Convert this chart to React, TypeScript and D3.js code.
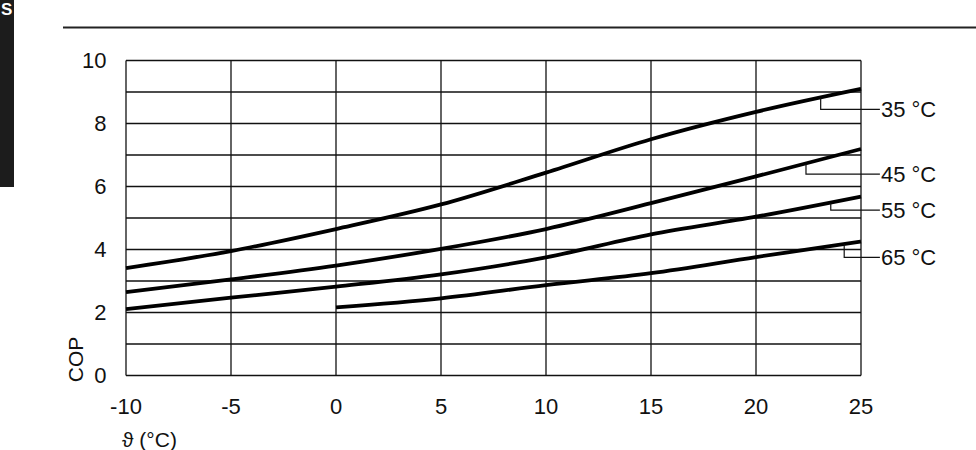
import React from "react";
import * as d3 from "d3";

const xTicks = [-10, -5, 0, 5, 10, 15, 20, 25];
const yTicks = [0, 2, 4, 6, 8, 10];
const yGrid = [0, 1, 2, 3, 4, 5, 6, 7, 8, 9, 10];

const temps = [-10, -5, 0, 5, 10, 15, 20, 25];
const cop35 = [3.41, 3.95, 4.65, 5.43, 6.44, 7.5, 8.37, 9.1];
const cop45 = [2.65, 3.05, 3.49, 4.02, 4.65, 5.47, 6.32, 7.19];
const cop55 = [2.11, 2.47, 2.82, 3.21, 3.75, 4.48, 5.04, 5.68];
const temps65 = [0, 5, 10, 15, 20, 25];
const cop65 = [2.16, 2.45, 2.87, 3.25, 3.76, 4.25];

const labelNames = ["35 °C", "45 °C", "55 °C", "65 °C"];
const labelAnchorX = [23.08, 22.38, 23.56, 24.2];
const labelAnchorTop = [8.8, 6.71, 5.47, 4.17];
const labelLevel = [8.45, 6.39, 5.25, 3.75];
const labelEndX = 25.9;

const W = 976;
const H = 450;
const left = 126;
const right = 861;
const top = 60.5;
const bottom = 375.5;

export default function App() {
  const x = d3.scaleLinear().domain([-10, 25]).range([left, right]);
  const y = d3.scaleLinear().domain([0, 10]).range([bottom, top]);
  const line = d3
    .line<[number, number]>()
    .x((d) => x(d[0]))
    .y((d) => y(d[1]))
    .curve(d3.curveMonotoneX);

  const series: [number, number][][] = [
    temps.map((t, i) => [t, cop35[i]] as [number, number]),
    temps.map((t, i) => [t, cop45[i]] as [number, number]),
    temps.map((t, i) => [t, cop55[i]] as [number, number]),
    temps65.map((t, i) => [t, cop65[i]] as [number, number]),
  ];

  const font = "'Liberation Sans', Arial, sans-serif";
  const fs = 22;
  const mid = 7.9;

  return (
    <svg
      width={W}
      height={H}
      viewBox={`0 0 ${W} ${H}`}
      style={{ position: "absolute", left: 0, top: 0, background: "#fff" }}
      fontFamily={font}
    >
      <rect x={0} y={0} width={W} height={H} fill="#fff" />
      {/* side tab */}
      <rect x={0} y={0} width={14} height={187} fill="#1c1c1c" />
      <text x={1} y={15} fontSize={17} fontWeight="bold" fill="#fff">
        S
      </text>
      {/* top rule */}
      <line x1={63} x2={W} y1={27.5} y2={27.5} stroke="#222" strokeWidth={2} />

      {/* grid */}
      {yGrid.map((v) => (
        <line
          key={"h" + v}
          x1={left}
          x2={right}
          y1={y(v)}
          y2={y(v)}
          stroke="#111"
          strokeWidth={1.3}
        />
      ))}
      {xTicks.map((v) => (
        <line
          key={"v" + v}
          x1={x(v)}
          x2={x(v)}
          y1={top}
          y2={bottom}
          stroke="#111"
          strokeWidth={1.3}
        />
      ))}

      {/* curves */}
      {series.map((s, i) => (
        <path
          key={"s" + i}
          d={line(s) || ""}
          fill="none"
          stroke="#000"
          strokeWidth={3.8}
          strokeLinejoin="round"
        />
      ))}

      {/* leader lines & labels */}
      {labelNames.map((name, i) => (
        <g key={name}>
          <path
            d={`M${x(labelAnchorX[i])},${y(labelAnchorTop[i])}V${y(
              labelLevel[i]
            )}H${x(labelEndX)}`}
            fill="none"
            stroke="#111"
            strokeWidth={1.2}
          />
          <text
            x={x(labelEndX) + 1}
            y={y(labelLevel[i]) + mid}
            fontSize={fs}
            fill="#111"
          >
            {name}
          </text>
        </g>
      ))}

      {/* y tick labels */}
      {yTicks.map((v) => (
        <text
          key={"yt" + v}
          x={106.5}
          y={y(v) + mid}
          fontSize={fs}
          textAnchor="end"
          fill="#111"
        >
          {v}
        </text>
      ))}
      {/* x tick labels */}
      {xTicks.map((v) => (
        <text
          key={"xt" + v}
          x={x(v)}
          y={406 + mid}
          fontSize={fs}
          textAnchor="middle"
          fill="#111"
        >
          {v}
        </text>
      ))}
      {/* axis titles */}
      <text
        transform={`translate(82.5,359.5) rotate(-90)`}
        fontSize={21}
        textAnchor="middle"
        fill="#111"
      >
        COP
      </text>
      <text x={122} y={447} fontSize={21} fill="#111">
        ϑ (°C)
      </text>
    </svg>
  );
}
